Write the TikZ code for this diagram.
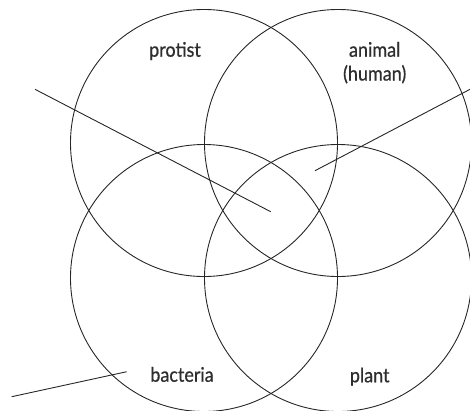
\documentclass[tikz,border=0pt]{standalone}
\usepackage{fontspec}
\setmainfont[FakeStretch=0.9,FakeBold=0.7]{Lato}
\begin{document}
\begin{tikzpicture}[x=1pt,y=-1pt,
  ring/.style={draw=black!85,line width=0.9pt},
  pointer/.style={draw=black!85,line width=0.9pt},
  lbl/.style={font=\fontsize{20}{24}\selectfont,text=black!82,anchor=base,inner sep=0pt,align=center}]
\useasboundingbox (0,0) rectangle (470,410);
\begin{scope}
\clip (0,0) rectangle (470,410);
\draw[ring] (204,143) circle (133.5);
\draw[ring] (338,143) circle (133.5);
\draw[ring] (204,278) circle (133.5);
\draw[ring] (338,278) circle (133.5);
\end{scope}
\node[lbl] (protist) at (175,56.7) {protist};
\node[lbl] (animal) at (374.7,56.7) {animal};
\node[lbl] (human) at (374.7,80.5) {(human)};
\node[lbl] (bacteria) at (182,381.7) {bacteria};
\node[lbl] (plant) at (369.7,382.3) {plant};
\coordinate (a1) at (35,89.3);
\coordinate (a2) at (270.7,211.7);
\coordinate (b1) at (470,89.3);
\coordinate (b2) at (315,170.7);
\coordinate (c1) at (11.7,396.7);
\coordinate (c2) at (126.7,371.7);
\draw[pointer] (a1) -- (a2);
\draw[pointer] (b1) -- (b2);
\draw[pointer] (c1) -- (c2);
\end{tikzpicture}
\end{document}
